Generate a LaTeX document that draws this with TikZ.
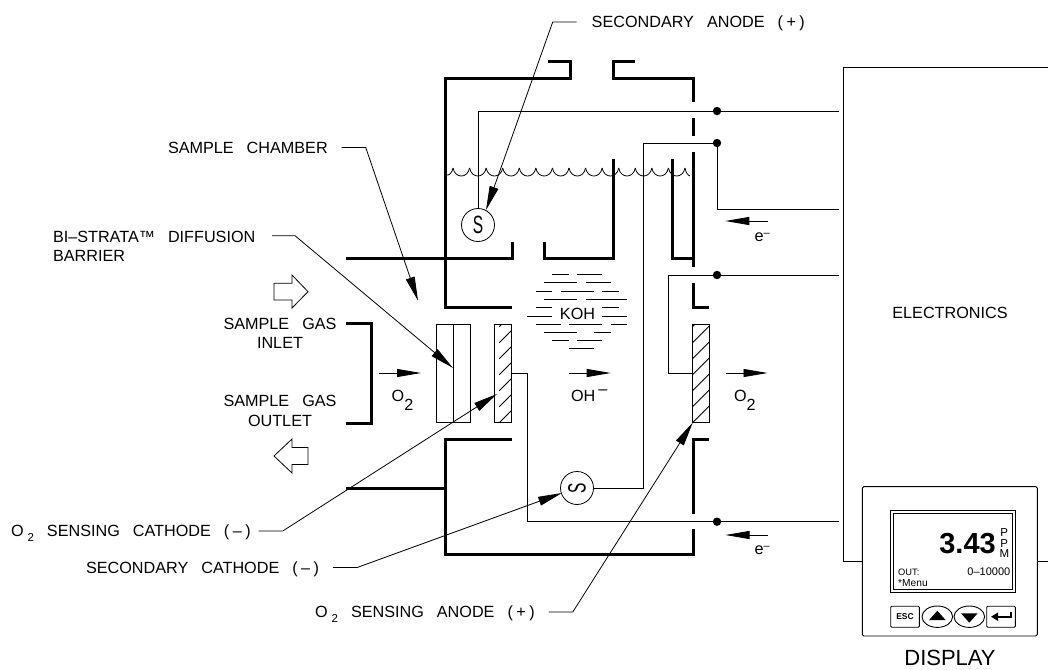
\documentclass[tikz,border=0pt]{standalone}
\usepackage{fontspec}
\setmainfont{Liberation Sans}
\usepackage{tikz}
\usetikzlibrary{arrows.meta,positioning,shapes.geometric}
\newcommand{\gapw}{\hspace{13pt}}
\newcommand{\otwo}{O\hspace{4pt}\raisebox{-4.5pt}{\fontsize{11.5}{12}\selectfont 2}}
\newcommand{\lowtwo}{O\raisebox{-8.5pt}{2}}
\newcommand{\eminus}{e\raisebox{4.5pt}{\fontsize{11}{11}\selectfont –}}
\newcommand{\signminus}{(\hspace{3.5pt}–\hspace{3.5pt})}
\newcommand{\signplus}{(\hspace{3.5pt}+\hspace{3.5pt})}

\begin{document}
\begin{tikzpicture}[
  x=1pt, y=-1pt,
  lbl/.style={inner sep=0pt, outer sep=0pt, text height=11.6pt, text depth=0pt, font=\fontsize{16.2}{19}\selectfont},
  lbltwo/.style={inner sep=0pt, outer sep=0pt, font=\fontsize{16.2}{19.3}\selectfont},
  wall/.style={line width=3pt, line join=miter},
  wire/.style={line width=0.8pt},
  leader/.style={line width=0.8pt, -{Triangle[length=24pt,width=9pt]}},
  flow/.style={line width=0.8pt, -{Triangle[length=24pt,width=8pt]}},
  dot/.style={circle, fill=black, inner sep=0pt, minimum size=8.4pt},
  sensor/.style={circle, draw, line width=0.8pt, inner sep=0pt, minimum size=33pt, font=\fontsize{25}{25}\selectfont},
  bar/.style={draw, line width=0.8pt, inner sep=0pt, outer sep=0pt, minimum width=17pt, minimum height=98.4pt},
  btn/.style={draw, line width=0.9pt, rounded corners=1pt, inner sep=0pt, minimum width=28.6pt, minimum height=21pt},
  oval/.style={ellipse, draw, line width=0.9pt, inner sep=0pt, minimum width=30.6pt, minimum height=21.4pt},
  fat/.style={draw, line width=0.8pt, line join=miter}
]
\useasboundingbox (0,0) rectangle (1048,669);

\draw[wire] (447,175) .. controls (449,175.5) and (452,173) .. (453,168);
\foreach \k in {0,...,13}
  \draw[wire] (453+16.57*\k,168) .. controls (455+16.57*\k,178.7) and (467.6+16.57*\k,178.7) .. (469.57+16.57*\k,168);
\draw[wire] (685,168) .. controls (686,173) and (688,175.5) .. (690,176);

\draw[wall] (548,61) -- (570,61) -- (570,78) -- (445,78) -- (445,307.5) -- (512,307.5);
\draw[wall] (635,61) -- (613,61) -- (613,78) -- (693,78) -- (693,102);
\draw[wall] (693,118) -- (693,136);
\draw[wall] (693,152) -- (693,267);
\draw[wall] (693,283) -- (693,307.5) -- (709,307.5);
\draw[wall] (346,258) -- (512,258) -- (512,242);
\draw[wall] (544,242) -- (544,258) -- (613.5,258) -- (613.5,159);
\draw[wall] (672.5,159) -- (672.5,258) -- (693,258);
\draw[wall] (512,439.5) -- (445,439.5) -- (445,554) -- (693,554) -- (693,529);
\draw[wall] (693,514) -- (693,439.5) -- (709,439.5);
\draw[wall] (346,488) -- (445,488);
\draw[wall] (346,323) -- (371,323) -- (371,423) -- (346,423);

\node[draw, line width=0.8pt, inner sep=0pt, outer sep=0pt, minimum width=33.4pt, minimum height=98.4pt] (barrier) at (453.4,373.5) {};
\draw[wire] (barrier.north) -- (barrier.south);
\node[bar] (cathode) at (503.2,373.5) {};
\node[bar] (anode) at (701,373.5) {};
\begin{scope}
  \clip (cathode.south west) rectangle (cathode.north east);
  \foreach \d in {0,...,7}
    \draw[wire] ([xshift=4.6pt,yshift=16*\d pt]cathode.south west) -- ++(40,-40);
\end{scope}
\begin{scope}
  \clip (anode.south west) rectangle (anode.north east);
  \foreach \d in {0,...,7}
    \draw[wire] ([yshift=16*\d pt]anode.south west) -- ++(40,-40);
\end{scope}

\node[sensor] (secAnode) at (478,225) {\scalebox{.62}[1]{S}};
\node[sensor, rotate=90] (secCathode) at (577,488) {\scalebox{.62}[1]{S}};

\node[dot] (dotA) at (717,111) {};
\node[dot] (dotB) at (717,143) {};
\node[dot] (dotC) at (717,275) {};
\node[dot] (dotD) at (717,521.7) {};
\coordinate (elecA) at (839,111);
\coordinate (elecB) at (839,209);
\coordinate (elecC) at (839,275);
\coordinate (elecD) at (839,521.7);
\draw[wire] (secAnode.north) -- (secAnode.north |- dotA) -- (dotA) -- (elecA);
\draw[wire] (secCathode) -- (643,488) -- (643,143) -- (dotB);
\draw[wire] (dotB) -- (717,209) -- (elecB);
\draw[wire] (anode.west) -- (668,373.5) -- (668,275) -- (dotC) -- (elecC);
\draw[wire] (cathode.east) -- (527,373.5) -- (527,521.7) -- (dotD) -- (elecD);

\foreach \a/\b/\yy in {552.3/569/274.7,577.3/602.3/274.7,544/577.3/282.7,585.7/610.7/282.7,
  535.7/552.3/291.3,560.7/594/291.3,602.3/619/291.3,544/577.3/299.7,585.7/627.3/299.7,
  535.7/552.3/307.7,602.3/619/307.7,527.3/552.3/316,602.3/627.3/316,
  535.7/560.7/324.3,569/602.3/324.3,610.7/627.3/324.3,544/577.3/332.7,594/610.7/332.7,
  552.3/569/340.7,577.3/602.3/340.7,569/594/348.7}
  \draw[wire] (\a,\yy) -- (\b,\yy);
\node[lbl] (koh) at (577.5,313.5) {KOH};

\coordinate (flowA) at (379,373);
\coordinate (flowAend) at (421,373);
\coordinate (flowB) at (568.7,373);
\coordinate (flowBend) at (610.7,373);
\coordinate (flowC) at (725.7,373);
\coordinate (flowCend) at (767.5,373);
\coordinate (flowD) at (767.5,221);
\coordinate (flowDend) at (725.3,221);
\coordinate (flowE) at (767.5,535);
\coordinate (flowEend) at (725.5,535);
\draw[flow] (flowA) -- (flowAend);
\draw[flow] (flowB) -- (flowBend);
\draw[flow] (flowC) -- (flowCend);
\draw[flow] (flowD) -- (flowDend);
\draw[flow] (flowE) -- (flowEend);
\node[lbl, anchor=base west] (oxyA) at (391.7,401.7) {\lowtwo};
\node[lbl, anchor=base west] (hydroxide) at (571,401.7) {OH\hspace{3pt}\raisebox{7.3pt}{–}};
\node[lbl, anchor=base west] (oxyB) at (734,401.7) {\lowtwo};
\node[lbl, anchor=base west] (electronA) at (754.5,241) {\eminus};
\node[lbl, anchor=base west] (electronB) at (754.5,554) {\eminus};

\draw[fat] (274,283.3) -- (292,283.3) -- (292,275) -- (308,291.7) -- (292,308) -- (292,300) -- (274,300) -- cycle;
\draw[fat] (308,447.5) -- (292,447.5) -- (292,439) -- (274,456) -- (292,473) -- (292,464.5) -- (308,464.5) -- cycle;

\node[lbl, anchor=west] (anodeLabel) at (591.7,22) {SECONDARY\gapw ANODE\gapw \signplus};
\node[lbl, anchor=west] (chamberLabel) at (168,147.5) {SAMPLE\gapw CHAMBER};
\node[lbltwo, anchor=north west, align=left] (barrierLabel) at (53,231) {BI–STRATA™\gapw DIFFUSION\\BARRIER};
\node[lbltwo, align=center] (inletLabel) at (280,333.5) {SAMPLE\gapw GAS\\INLET};
\node[lbltwo, align=center] (outletLabel) at (280,411) {SAMPLE\gapw GAS\\OUTLET};
\node[lbl, anchor=west] (cathodeLabel) at (11,531) {\otwo\gapw SENSING\gapw CATHODE\gapw \signminus};
\node[lbl, anchor=west] (secCathodeLabel) at (86,567.5) {SECONDARY\gapw CATHODE\gapw \signminus};
\node[lbl, anchor=west] (anodeSenseLabel) at (315,612) {\otwo\gapw SENSING\gapw ANODE\gapw \signplus};
\node[lbl] (elecLabel) at (950,313) {ELECTRONICS};

\coordinate (barrierFree) at (272,235.7);
\coordinate (tipS) at (486,210);
\coordinate (tipChamber) at (418,300.7);
\coordinate (tipBarrier) at (453,368);
\coordinate (tipCathode) at (497,394);
\coordinate (tipSecCathode) at (562,493);
\coordinate (tipAnode) at (692.7,422.7);
\draw[leader] ([xshift=-15pt]anodeLabel.west) -- ++(-24,0) -- (tipS);
\draw[leader] ([xshift=14pt]chamberLabel.east) -- ++(24,0) -- (tipChamber);
\draw[leader] (barrierFree) -- ++(23,0) -- (tipBarrier);
\draw[leader] ([xshift=8pt]cathodeLabel.east) -- ++(24,0) -- (tipCathode);
\draw[leader] ([xshift=14pt]secCathodeLabel.east) -- ++(24,0) -- (tipSecCathode);
\draw[leader] ([xshift=14pt]anodeSenseLabel.east) -- ++(24,0) -- (tipAnode);

\node[draw, line width=0.9pt, rounded corners=1.5pt, inner sep=0pt, outer sep=0pt, minimum width=175pt, minimum height=149.3pt] (display) at (949.8,561.3) {};
\draw[wire] (1048,67.7) -- (843,67.7) -- (843,561.3) -- (display.west);
\draw[wire] (display.east) -- (1048,561.3);
\node[draw, line width=0.9pt, inner sep=0pt, outer sep=0pt, minimum width=124.6pt, minimum height=82.3pt] (screen) at (953,551.2) {};
\node[draw, line width=0.9pt, inner sep=0pt, outer sep=0pt, minimum width=118.6pt, minimum height=76.3pt] (screenInner) at (screen) {};
\node[inner sep=0pt, anchor=base east, font=\fontsize{29}{29}\selectfont\bfseries] (reading) at (996,553) {3.43};
\node[inner sep=0pt, align=center, font=\fontsize{11.5}{10.7}\selectfont] (unit) at (1004.3,543.3) {P\\P\\M};
\node[inner sep=0pt, anchor=base west, font=\fontsize{9.3}{10}\selectfont] (outText) at (898,575.5) {OUT:};
\node[inner sep=0pt, anchor=base east, font=\fontsize{11}{11}\selectfont] (rangeText) at (1010.5,575.5) {0–10000};
\node[inner sep=0pt, anchor=base west, font=\fontsize{10.2}{11}\selectfont] (menuText) at (898,586) {*Menu};
\node[btn, font=\fontsize{8.5}{9}\selectfont\bfseries] (escBtn) at (905,616.7) {ESC};
\node[oval] (upBtn) at (937.3,616.7) {};
\node[oval] (downBtn) at (969.3,616.7) {};
\node[btn] (enterBtn) at (1001,616.7) {};
\fill ([shift={(-8.3,3.4)}]upBtn.center) -- ++(16.6,0) -- ++(-8.3,-9.4) -- cycle;
\fill ([shift={(-8.3,-3.4)}]downBtn.center) -- ++(16.6,0) -- ++(-8.3,9.4) -- cycle;
\draw[line width=1.9pt, -{Triangle[length=7pt,width=8pt]}] ([shift={(9.7,-5.2)}]enterBtn.center) -- ([shift={(9.7,0)}]enterBtn.center) -- ([shift={(-10,0)}]enterBtn.center);
\node[inner sep=0pt, font=\fontsize{22}{22}\selectfont] (displayLabel) at (950,658) {DISPLAY};
\end{tikzpicture}
\end{document}
